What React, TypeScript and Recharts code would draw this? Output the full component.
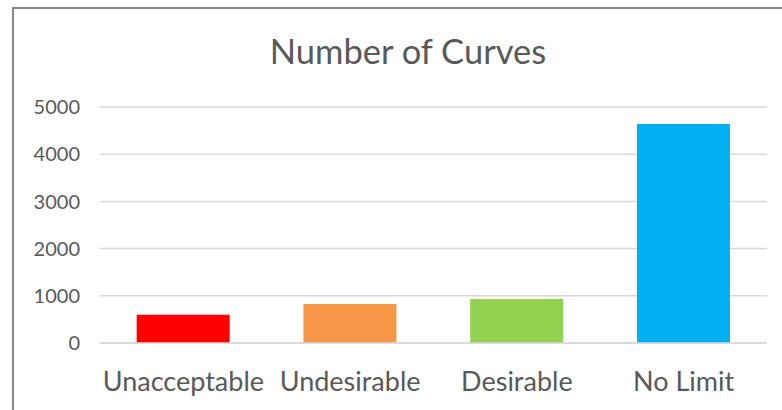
import { Bar, BarChart, CartesianGrid, Cell, XAxis, YAxis } from 'recharts';

const categories = ['Unacceptable', 'Undesirable', 'Desirable', 'No Limit'];
const curveCounts = [600, 825, 930, 4640];
const barColors = ['#ff0000', '#f79646', '#92d050', '#00b0f0'];
const yTicks = [0, 1000, 2000, 3000, 4000, 5000];

const data = categories.map((name, i) => ({ name, value: curveCounts[i] }));

const FONT = 'Lato, "Open Sans", sans-serif';
const TEXT = '#595959';

const App = () => {
    return (
        <div style={{ position: 'fixed', left: 0, top: 0, width: 782, height: 410, overflow: 'hidden', background: '#fff', fontFamily: FONT }}>
            <div style={{ position: 'absolute', left: 12, top: 7, width: 800, height: 420, border: '2px solid #878787' }} />
            <div style={{ position: 'absolute', left: 0, top: 32, width: 816, textAlign: 'center', fontSize: 34.5, color: TEXT, lineHeight: '38px' }}>
                Number of Curves
            </div>
            <div style={{ position: 'absolute', left: 0, top: 0 }}>
                <BarChart width={782} height={410} data={data} barCategoryGap="22%" margin={{ top: 107, right: 15, bottom: 0, left: 0 }}>
                    <CartesianGrid vertical={false} stroke="#d9d9d9" strokeWidth={1.5} />
                    <XAxis
                        dataKey="name"
                        height={67}
                        tickSize={0}
                        tickMargin={29}
                        axisLine={{ stroke: '#d9d9d9', strokeWidth: 1.5 }}
                        tick={{ fill: TEXT, fontSize: 27, fontFamily: FONT }}
                        interval={0}
                    />
                    <YAxis
                        width={100}
                        domain={[0, 5000]}
                        ticks={yTicks}
                        tickSize={0}
                        tickMargin={20}
                        axisLine={false}
                        tickLine={false}
                        tick={{ fill: TEXT, fontSize: 20, fontFamily: FONT }}
                    />
                    <Bar dataKey="value" isAnimationActive={false}>
                        {data.map((d, i) => (
                            <Cell key={d.name} fill={barColors[i]} />
                        ))}
                    </Bar>
                </BarChart>
            </div>
        </div>
    );
};

export default App;
